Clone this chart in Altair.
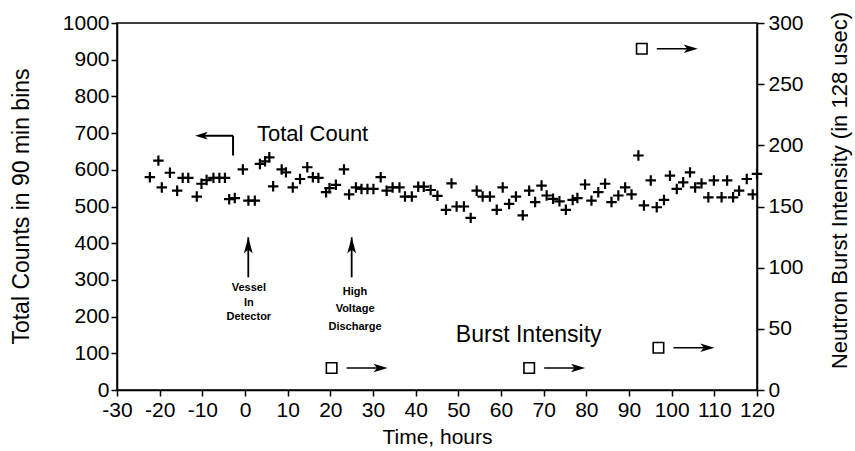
import altair as alt
import pandas as pd

# ---- data ----
count_hours = [-22.3, -20.3, -19.5, -17.6, -15.9, -14.6, -13.3, -11.3, -10.2, -9.0,
               -7.4, -6.0, -4.7, -3.7, -2.4, -0.5, 0.8, 2.3, 3.5, 4.7,
               5.7, 6.6, 8.6, 9.6, 11.2, 12.9, 14.6, 15.9, 17.2, 19.0,
               19.8, 21.3, 23.2, 24.4, 26.0, 27.3, 28.7, 30.1, 31.8, 33.2,
               34.6, 36.2, 37.5, 39.1, 40.6, 41.9, 43.5, 45.1, 47.1, 48.4,
               49.6, 51.3, 52.9, 54.3, 55.7, 57.4, 59.0, 60.4, 61.9, 63.5,
               65.1, 66.6, 68.0, 69.5, 70.7, 72.2, 73.7, 75.2, 76.8, 77.9,
               79.7, 81.2, 82.8, 84.4, 85.9, 87.5, 89.1, 90.6, 92.2, 93.5,
               95.1, 96.5, 98.2, 99.6, 101.2, 102.7, 104.3, 105.5, 107.0, 108.6,
               109.9, 111.7, 113.0, 114.4, 115.8, 117.6, 119.0, 120.0]
count_values = [580, 625, 552, 592, 543, 578, 578, 527, 562, 572,
                578, 578, 578, 520, 523, 601, 516, 516, 616, 623,
                634, 555, 601, 593, 552, 575, 607, 580, 578, 539,
                550, 559, 601, 533, 552, 548, 548, 548, 580, 543,
                552, 552, 527, 527, 554, 554, 545, 529, 491, 563,
                500, 500, 469, 543, 527, 527, 491, 552, 507, 527,
                476, 543, 512, 557, 530, 521, 514, 491, 518, 523,
                560, 516, 539, 562, 512, 530, 552, 533, 639, 503,
                571, 498, 518, 584, 548, 566, 593, 552, 563, 525,
                571, 525, 571, 525, 543, 575, 533, 589]

burst_hours = [20.3, 66.6, 93.0, 96.9]
burst_values = [18, 18, 279, 34.5]

x_ticks = list(range(-30, 121, 10))
left_ticks = list(range(0, 1001, 100))
right_ticks = list(range(0, 301, 50))

# annotation texts (in time / total-count units)
note_text = ["Vessel", "In", "Detector", "High", "Voltage", "Discharge"]
note_x = [0.9, 0.9, 0.9, 25.8, 25.8, 25.8]
note_y = [277, 236, 198, 266, 220, 171]
up_arrow_x = [0.77, 25.0]
up_arrow_top = [416, 416]
up_arrow_bottom = [307, 307]
big_text = ["Total Count", "Burst Intensity"]
big_x = [2.8, 66.5]
big_y = [698, 149.5]
big_align = ["left", "center"]
bent_x = [-2.8, -10.5]
bent_x2 = [-2.8, -2.8]
bent_y = [639, 693]
bent_y2 = [693, 693]

FONT = "Liberation Sans"
PLAIN = "datum.value + ''"

counts = pd.DataFrame({"t": count_hours, "v": count_values})
burst = pd.DataFrame({"t": burst_hours, "v": burst_values})
notes = pd.DataFrame({"t": note_x, "v": note_y, "label": note_text})
uparrows = pd.DataFrame({"t": up_arrow_x, "v": up_arrow_top, "v0": up_arrow_bottom})
bigs = pd.DataFrame({"t": big_x, "v": big_y, "label": big_text, "align": big_align})
bent = pd.DataFrame({"t": bent_x, "t2": bent_x2, "v": bent_y, "v2": bent_y2})
bent_tip = pd.DataFrame({"t": [-11.7], "v": [693]})

xscale = alt.Scale(domain=[-30, 120], nice=False, zero=False)
xaxis = alt.Axis(values=x_ticks, labelOverlap=False, grid=False, tickSize=6,
                 labelPadding=3, labelFontSize=21, titleFontSize=21,
                 titleY=47, titleBaseline="middle", labelFlush=False,
                 labelExpr=PLAIN)
lscale = alt.Scale(domain=[0, 1000], nice=False, zero=False)
rscale = alt.Scale(domain=[0, 300], nice=False, zero=False)


def X(field="t"):
    return alt.X(f"{field}:Q", scale=xscale, axis=xaxis, title="Time, hours")


def YL(field="v"):
    return alt.Y(f"{field}:Q", scale=lscale, axis=None)


def YR(field="v"):
    return alt.Y(f"{field}:Q", scale=rscale, axis=None)


plus_shape = "M-1,0L1,0M0,-1L0,1"
right_head = "M0,0L-2,-0.6L-1.5,0L-2,0.6Z"
left_head = "M0,0L2,-0.6L1.5,0L2,0.6Z"
up_head = "M0,0L-0.55,2L0,1.5L0.55,2Z"

count_layer = alt.Chart(counts).mark_point(
    shape=plus_shape, filled=False, color="black", strokeWidth=2.2, size=110, opacity=1
).encode(
    x=X(),
    y=alt.Y("v:Q", scale=lscale, title="Total Counts in 90 min bins",
            axis=alt.Axis(values=left_ticks, orient="left", grid=False, tickSize=6,
                          labelPadding=2, labelFontSize=21, titleFontSize=23,
                          titleAngle=270, titleX=-96, titleY=183,
                          titleBaseline="middle", titleAlign="center",
                          labelFlush=False, labelOverlap=False, labelExpr=PLAIN)),
)

burst_layer = alt.Chart(burst).mark_point(
    shape="square", filled=False, color="black", strokeWidth=1.6, size=110, opacity=1
).encode(
    x=X(),
    y=alt.Y("v:Q", scale=rscale, title="Neutron Burst Intensity (in 128 usec)",
            axis=alt.Axis(values=right_ticks, orient="right", grid=False, tickSize=7,
                          labelPadding=4, labelFontSize=21, titleFontSize=22,
                          titleAngle=270, titleX=82, titleY=167,
                          titleBaseline="middle", titleAlign="center",
                          labelFlush=False, labelOverlap=False, labelExpr=PLAIN)),
)

burst_arrow_line = alt.Chart(burst).mark_rule(
    color="black", strokeWidth=1.6, xOffset=15, x2Offset=50
).encode(x=X(), x2=alt.X2("t:Q"), y=YR())

burst_arrow_head = alt.Chart(burst).mark_point(
    shape=right_head, filled=True, color="black", size=200, opacity=1, xOffset=56
).encode(x=X(), y=YR())

note_layer = alt.Chart(notes).mark_text(
    font=FONT, fontSize=11, fontWeight="bold", color="black", align="center", baseline="middle"
).encode(x=X(), y=YL(), text="label:N")

big_layer_l = alt.Chart(bigs[bigs["align"] == "left"]).mark_text(
    font=FONT, fontSize=22, color="black", align="left", baseline="middle"
).encode(x=X(), y=YL(), text="label:N")

big_layer_c = alt.Chart(bigs[bigs["align"] == "center"]).mark_text(
    font=FONT, fontSize=23, color="black", align="center", baseline="middle"
).encode(x=X(), y=YL(), text="label:N")

up_line = alt.Chart(uparrows).mark_rule(color="black", strokeWidth=1.8).encode(
    x=X(), y=YL("v0"), y2=alt.Y2("v:Q"),
)

up_head_layer = alt.Chart(uparrows).mark_point(
    shape=up_head, filled=True, color="black", size=260, opacity=1
).encode(x=X(), y=YL())

bent_line = alt.Chart(bent).mark_rule(color="black", strokeWidth=2).encode(
    x=X(), x2=alt.X2("t2:Q"), y=YL(), y2=alt.Y2("v2:Q")
)

bent_head = alt.Chart(bent_tip).mark_point(
    shape=left_head, filled=True, color="black", size=160, opacity=1
).encode(x=X(), y=YL())

chart = alt.layer(
    count_layer, burst_layer, burst_arrow_line, burst_arrow_head,
    note_layer, big_layer_l, big_layer_c, up_line, up_head_layer,
    bent_line, bent_head
).resolve_scale(y="independent").properties(
    width=640, height=367,
    autosize=alt.AutoSizeParams(type="none"),
    padding={"left": 117, "top": 23, "right": 98, "bottom": 61},
    background="white",
).configure_view(
    stroke="black", strokeWidth=1.5
).configure_axis(
    labelFont=FONT, titleFont=FONT, labelColor="black", titleColor="black",
    titleFontWeight="normal", domainColor="black", tickColor="black",
    domainWidth=1.5, tickWidth=1.5
)

chart.save("out.html", embed_options={"renderer": "svg", "actions": False})
